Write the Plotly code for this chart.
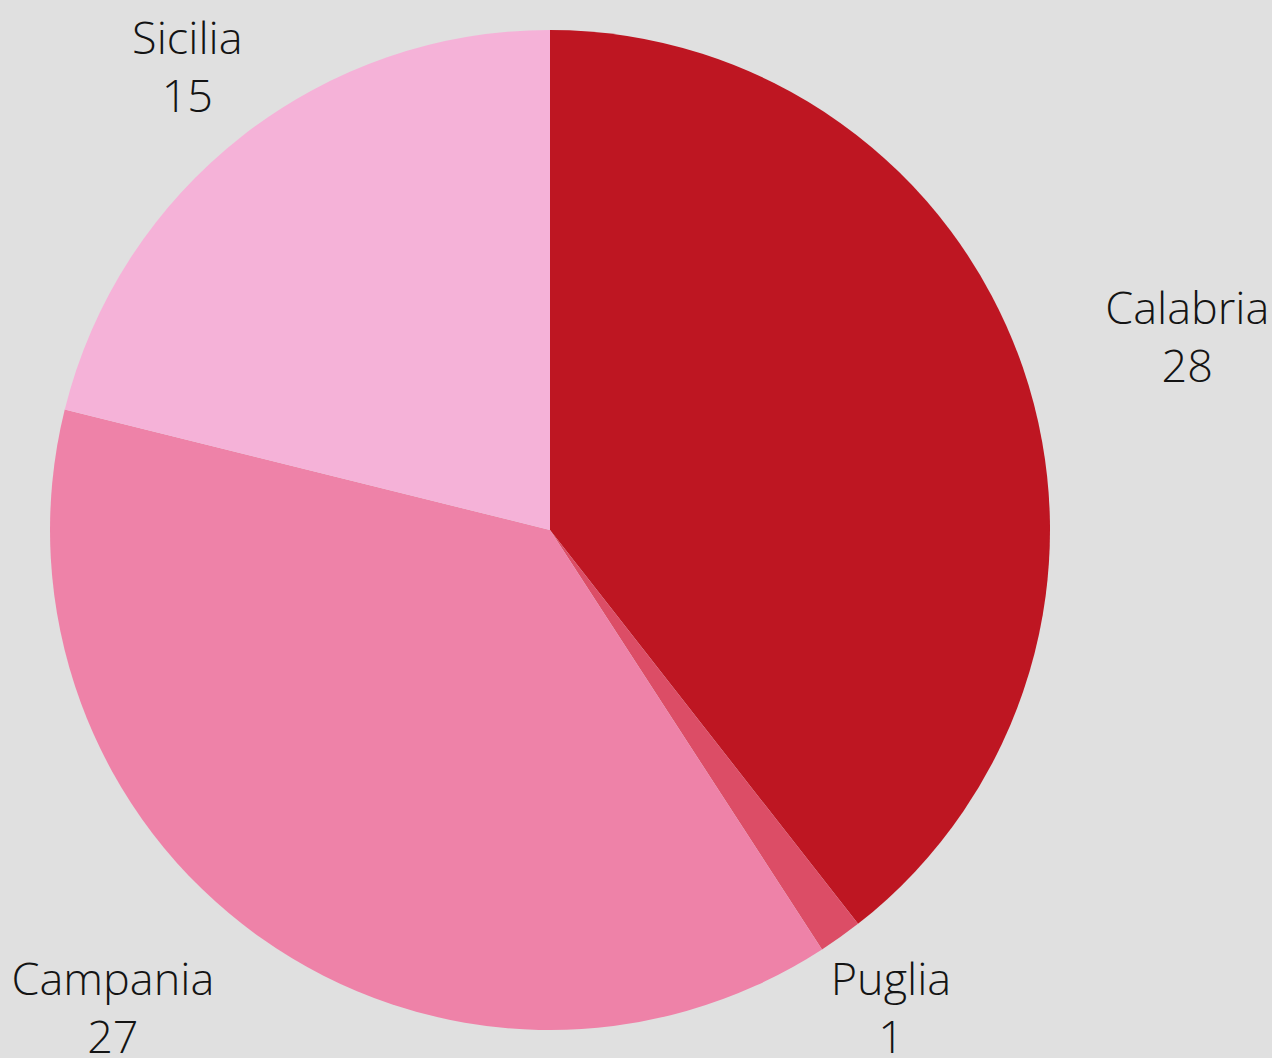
import plotly.graph_objects as go

regions = ["Calabria", "Puglia", "Campania", "Sicilia"]
values = [28, 1, 27, 15]
colors = ["#BE1622", "#DC4D66", "#EE82A8", "#F5B2D8"]

W, H = 1272, 1058
cx, cy, r = 550, 530, 500          # visible pie centre (px from top-left) and radius
r_lbl = 470                         # radius of the invisible label-carrying pies
# per-label offset (px) of the invisible pie centre, to place each outside label
label_shift = {
    "Calabria": (81, -35),
    "Puglia": (-22, 54),
    "Campania": (-33, 54),
    "Sicilia": (12, -57),
}

label_font = dict(family="Open Sans", size=45, color="#141414", weight=300)


def domain_for(x0, y0, rad):
    return dict(x=[(x0 - rad) / W, (x0 + rad) / W],
                y=[(H - y0 - rad) / H, (H - y0 + rad) / H])


fig = go.Figure()
# visible pie
fig.add_trace(go.Pie(
    labels=regions, values=values, sort=False, direction="clockwise", rotation=0,
    marker=dict(colors=colors, line=dict(width=0)),
    textinfo="none", hoverinfo="none", automargin=False,
    domain=domain_for(cx, cy, r),
))
# transparent pies, one per label, used only to place the outside labels
for i, name in enumerate(regions):
    dx, dy = label_shift[name]
    texts = [f"{l}<br>{v}" if j == i else "" for j, (l, v) in enumerate(zip(regions, values))]
    fig.add_trace(go.Pie(
        labels=regions, values=values, sort=False, direction="clockwise", rotation=0,
        marker=dict(colors=["rgba(0,0,0,0)"] * len(regions), line=dict(width=0)),
        text=texts, textinfo="text", textposition="outside",
        outsidetextfont=label_font, hoverinfo="none", automargin=False,
        domain=domain_for(cx + dx, cy + dy, r_lbl),
    ))
fig.update_layout(
    width=W, height=H,
    margin=dict(l=0, r=0, t=0, b=0),
    paper_bgcolor="#E0E0E0",
    plot_bgcolor="#E0E0E0",
    showlegend=False,
)
fig.write_html(
    "out.html",
    config={"displayModeBar": False},
    post_script="document.body.style.margin='0';document.body.style.background='#E0E0E0';",
)
